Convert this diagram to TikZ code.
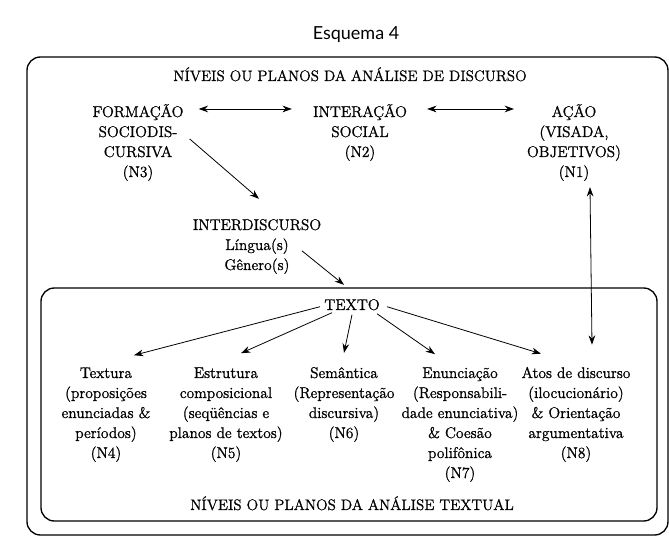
\documentclass[tikz,border=0pt]{standalone}
\usepackage{fontspec}
\setmainfont{Latin Modern Roman}[FakeBold=1.0]
\newfontfamily\titlefont{Lato}
\usetikzlibrary{arrows.meta,calc}
\begin{document}
\begin{tikzpicture}[x=0.75pt,y=-0.75pt,
  lbl/.style={inner sep=0pt,align=center,font=\fontsize{11.6}{15}\selectfont},
  hdr/.style={inner sep=0pt,font=\fontsize{11.4}{15}\selectfont},
  arr/.style={-{Stealth[length=7pt,width=5pt]},line width=0.6pt},
  darr/.style={{Stealth[length=7pt,width=5pt]}-{Stealth[length=7pt,width=5pt]},line width=0.6pt},
  box/.style={line width=1pt,rounded corners=10pt}]
\useasboundingbox (0,0) rectangle (669,549);
\node[inner sep=0pt,anchor=base,font=\titlefont\fontsize{13.5}{16}\selectfont] (esq) at (356,40) {Esquema 4};
\draw[box] (27,57) rectangle (668,535);
\draw[box] (41,288) rectangle (657,521);
\node[hdr,anchor=base] (h1) at (350,81) {NÍVEIS OU PLANOS DA ANÁLISE DE DISCURSO};
\node[hdr,anchor=base] (h2) at (352,510) {NÍVEIS OU PLANOS DA ANÁLISE TEXTUAL};
% last-line baselines (20px line pitch)
\node[lbl,anchor=base] (n3) at (138,177) {FORMAÇÃO\\SOCIODIS-\\CURSIVA\\(N3)};
\node[lbl,anchor=base] (n2) at (360,157) {INTERAÇÃO\\SOCIAL\\(N2)};
\node[lbl,anchor=base] (n1) at (574,177) {AÇÃO\\(VISADA,\\OBJETIVOS)\\(N1)};
\node[lbl,anchor=base] (inter) at (257,270) {INTERDISCURSO\\Língua(s)\\Gênero(s)};
\node[lbl,anchor=base] (texto) at (352,310) {TEXTO};
\node[lbl,anchor=base] (n4) at (106,458) {Textura\\(proposições\\enunciadas \&\\períodos)\\(N4)};
\node[lbl,anchor=base] (n5) at (226,458) {Estrutura\\composicional\\(seqüências e\\planos de textos)\\(N5)};
\node[lbl,anchor=base] (n6) at (344,438) {Semântica\\(Representação\\discursiva)\\(N6)};
\node[lbl,anchor=base] (n7) at (460,478) {Enunciação\\(Responsabili-\\dade enunciativa)\\\& Coesão\\polifônica\\(N7)};
\node[lbl,anchor=base] (n8) at (576,458) {Atos de discurso\\(ilocucionário)\\\& Orientação\\argumentativa\\(N8)};
% connectors
\draw[darr] ($(n3.north east)+(15,5)$) -- ($(n2.north west)+(-21,5)$);
\draw[darr] ($(n2.north east)+(20,5)$) -- ($(n1.north)+(-60,5)$);
\draw[arr] ($(n3.north east)+(6,35)$) -- ($(inter.north)+(2,-20)$);
\draw[arr] ($(inter.north)+(45,32)$) -- ($(texto.north)+(-8,-14)$);
\draw[arr] ($(texto.center)+(-32,2)$) -- ($(n4.north)+(28,-12)$);
\draw[arr] ($(texto.center)+(-20,8)$) -- ($(n5.north)+(15,-14)$);
\draw[arr] ($(texto.center)+(0,10)$) -- ($(n6.north)+(0,-14)$);
\draw[arr] ($(texto.center)+(25,9)$) -- ($(n7.north)+(-25,-13)$);
\draw[arr] ($(texto.center)+(35,2)$) -- ($(n8.north)+(-35,-13)$);
\draw[darr] ($(n1.south)+(16,6)$) -- ($(n8.north)+(16,-22)$);
\end{tikzpicture}
\end{document}
